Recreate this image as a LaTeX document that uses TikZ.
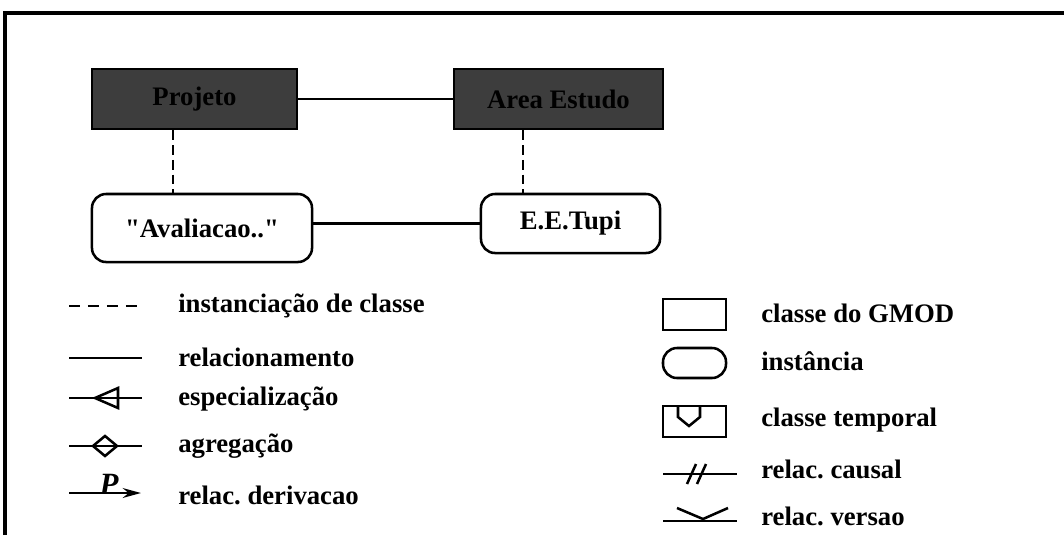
\documentclass[tikz,border=0pt]{standalone}
\usepackage{amsmath}
\usepackage{fontspec}
\setmainfont{Liberation Serif}
\newfontfamily\retofont{Liberation Serif}
\usetikzlibrary{arrows.meta}
\usetikzlibrary{shapes.geometric}
\frenchspacing
\newcommand{\aspas}{{\retofont\bfseries "}}

\begin{document}
\begin{tikzpicture}[x=0.025cm, y=-0.025cm,
font=\fontsize{19}{21}\selectfont\bfseries,
classe/.style = {draw, line width=1.8pt, fill=black!76,
            minimum height=1.5cm, inner sep=0pt},
inst/.style = {draw, line width=1.8pt, rounded corners=10pt,
            inner sep=0pt},
lig/.style = {line width=1.8pt}
                ]
    \useasboundingbox (0,0) rectangle (1064,535);
    \draw [line width=2.4pt] (5,535) -- (5,13) -- (1064,13);

    % classes e instancias
    \node[classe, minimum width=5.125cm] at (194.5,99) (pj) {Projeto};
    \node[classe, minimum width=5.225cm] at (558.5,99) (ae) {Area Estudo};
    \node[inst, minimum width=5.5cm, minimum height=1.7cm] at (202,228) (av) {\aspas Avaliacao..\aspas};
    \node[inst, minimum width=4.475cm, minimum height=1.475cm] at (570.5,223.5) (tp) {E.E.Tupi};
    \draw [lig] (pj) -- (ae);
    \draw [lig] (tp.west) -- (tp.west -| av.east);
    \draw [lig, dash pattern=on 7pt off 3.5pt] ([xshift=-0.54cm]pj.south) -- ([xshift=-0.54cm]pj.south |- av.north);
    \draw [lig, dash pattern=on 7pt off 3.5pt] ([xshift=-0.89cm]ae.south) -- ([xshift=-0.89cm]ae.south |- tp.north);

    % legenda esquerda
    \foreach \y/\t in {306/instanciação de classe, 357/relacionamento, 399/especialização,
                       446/agregação, 495/relac. derivacao}
        \node[anchor=west, inner sep=0pt] at (178,\y) (l\y) {\t};
    \coordinate (a1) at (69,306);  \coordinate (b1) at (138,306);
    \coordinate (a2) at (69,358);  \coordinate (b2) at (142,358);
    \coordinate (a3) at (69,398);  \coordinate (b3) at (142,398);
    \coordinate (a4) at (69,446);  \coordinate (b4) at (142,446);
    \coordinate (a5) at (69,493);  \coordinate (b5) at (141,493);
    \draw [lig, dash pattern=on 7.8pt off 5.7pt] (a1) -- (b1);
    \draw [lig] (a2) -- (b2);
    \draw [lig] (a3) -- (b3);
    \draw [lig] (95,398) -- (118,388) -- (118,408) -- cycle;
    \draw [lig] (a4) -- (b4);
    \draw [lig] (93,446) -- (105,436) -- (117,446) -- (105,456) -- cycle;
    \draw [lig, -{Stealth[length=13pt, width=7pt]}] (a5) -- (b5);
    \node[anchor=south, inner sep=0pt] at (109,495) (p) {\fontsize{22}{24}\selectfont\itshape P};

    % legenda direita
    \foreach \y/\t in {313/classe do GMOD, 361/instância, 420/classe temporal,
                       469/relac. causal, 516/relac. versao}
        \node[anchor=west, inner sep=0pt] at (761,\y) (r\y) {\t};
    \node[draw, lig, minimum width=1.575cm, minimum height=0.775cm, inner sep=0pt] at (694.5,314.5) (gm) {};
    \node[draw, lig, minimum width=1.575cm, minimum height=0.75cm, rounded corners=10pt, inner sep=0pt] at (694.5,363) (in) {};
    \node[draw, lig, minimum width=1.575cm, minimum height=0.775cm, inner sep=0pt] at (694.5,421.5) (ct) {};
    \draw [lig] (678,406) -- (678,417) -- (689,426) -- (700,417) -- (700,406);
    \coordinate (c1) at (663,474);  \coordinate (c2) at (737,474);
    \coordinate (v1) at (663,521);  \coordinate (v2) at (737,521);
    \draw [lig] (c1) -- (c2);
    \draw [lig] (687,484) -- (696,464);
    \draw [lig] (697,484) -- (706,464);
    \draw [lig] (v1) -- (v2);
    \draw [lig] (677,508) -- (703,519) -- (728,508);
\end{tikzpicture}
\end{document}
